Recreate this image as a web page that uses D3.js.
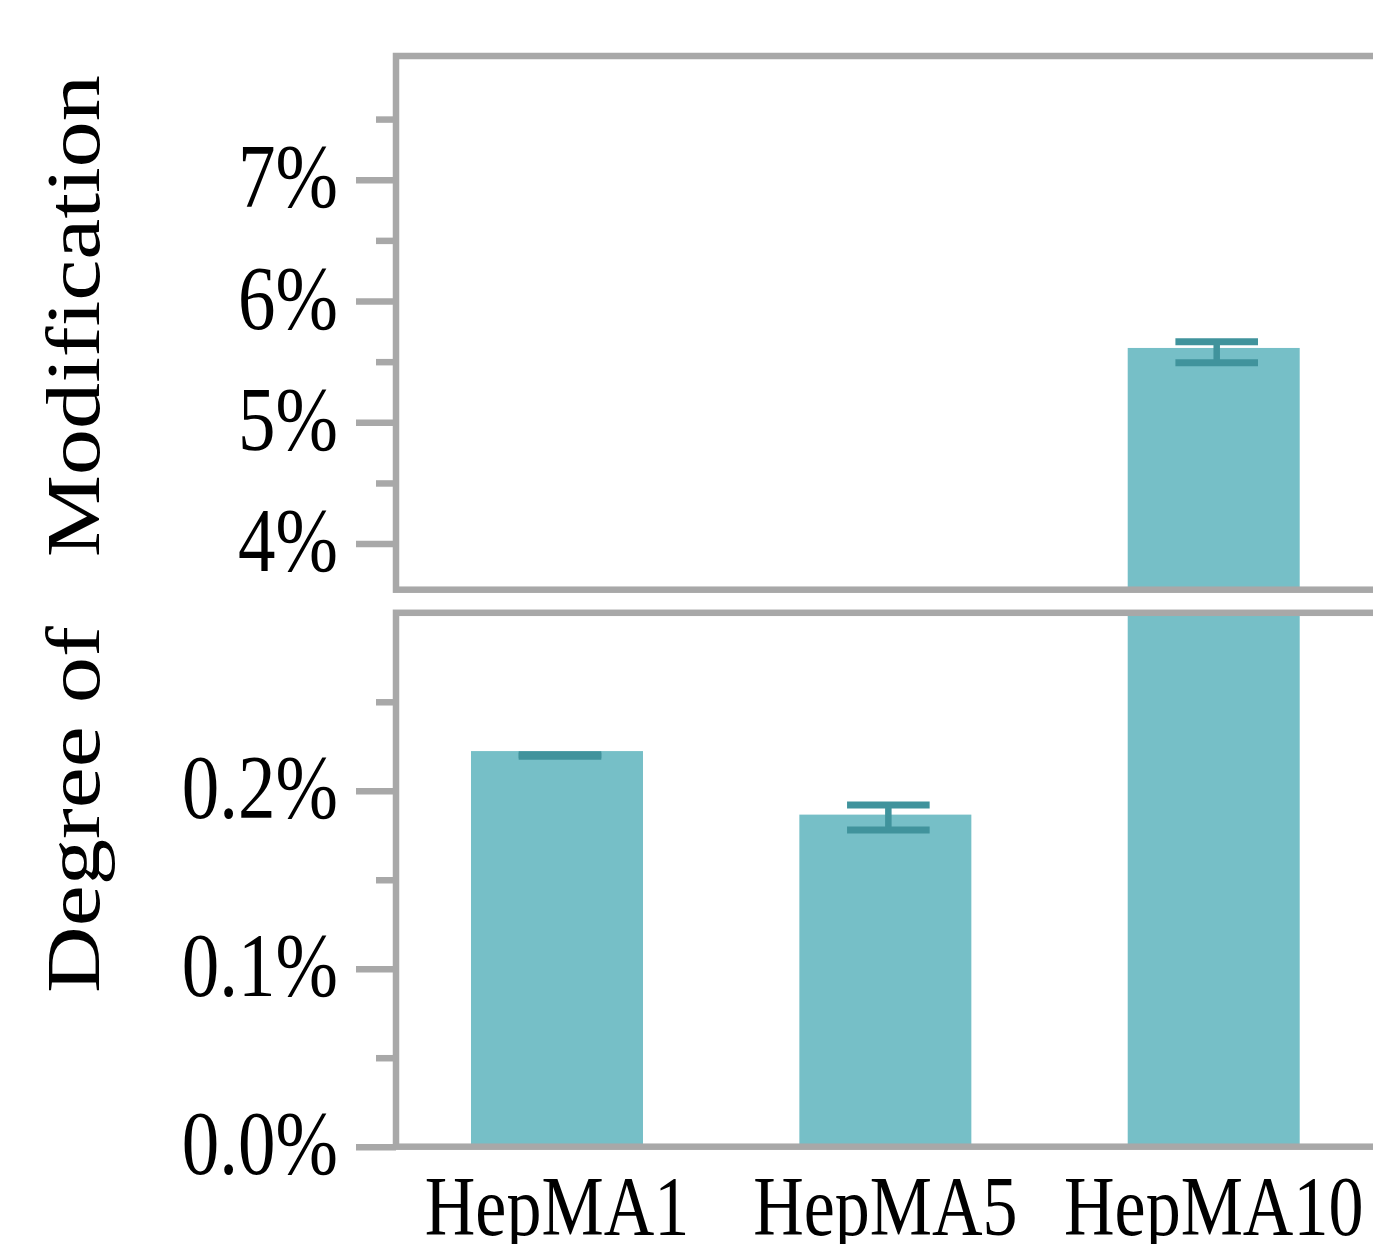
<!DOCTYPE html>
<html>
<head>
<meta charset="utf-8">
<script src="https://cdn.jsdelivr.net/npm/d3@7/dist/d3.min.js"></script>
<style>
  html, body { margin: 0; padding: 0; background: #fff; }
  svg { display: block; }
  text { font-family: "Liberation Serif", "Times New Roman", Times, serif; fill: #000; }
</style>
</head>
<body>
<svg id="chart" width="1373" height="1244"></svg>
<script>
// ---- data ----
const categories = ["HepMA1", "HepMA5", "HepMA10"];
const values     = [0.2223, 0.1866, 5.613];   // % modification
const errLow     = [0.2194, 0.1780, 5.491];
const errHigh    = [0.2202, 0.1920, 5.664];
const topTicks      = [4, 5, 6, 7];
const topMinorTicks = [4.5, 5.5, 6.5, 7.5];
const botTicks      = [0.0, 0.1, 0.2];
const botMinorTicks = [0.05, 0.15, 0.25];
const yLabelParts = ["Degree of", "Modification"];

// ---- layout / style ----
const W = 1373, H = 1244;
const axisColor = "#a8a8a8";
const barColor = "#76bfc7";
const errColor = "#40939c";
const sw = 6.5;
const stretch = 1.2;   // vertical text stretch seen in reference
const left = 396, right = 1380;
const topPanel = { y0: 56, y1: 589.7 };
const botPanel = { y0: 612.8, y1: 1146.7 };

const svg = d3.select("#chart");

const x = d3.scaleBand().domain(categories).range([left, 1374.7])
  .paddingInner(0.4762).paddingOuter(0.2284);

const yTop = d3.scaleLinear().domain([3.62, 8.02]).range([topPanel.y1, topPanel.y0]);
const yBot = d3.scaleLinear().domain([0, 0.30]).range([botPanel.y1, botPanel.y0]);

const rows = categories.map((c, i) => ({ c, v: values[i], lo: errLow[i], hi: errHigh[i] }));

const defs = svg.append("defs");
function clip(id, p) {
  defs.append("clipPath").attr("id", id).append("rect")
    .attr("x", left).attr("y", p.y0).attr("width", right - left).attr("height", p.y1 - p.y0);
}
clip("clipTop", topPanel);
clip("clipBot", botPanel);

function drawPanel(y, clipId, panel, ticks, minor, fmt) {
  const g = svg.append("g");
  const pg = g.append("g").attr("clip-path", `url(#${clipId})`);
  pg.selectAll("rect.bar").data(rows).join("rect").attr("class", "bar")
    .attr("x", d => x(d.c)).attr("width", x.bandwidth())
    .attr("y", d => y(d.v)).attr("height", d => Math.max(0, y(y.domain()[0]) - y(d.v) + 10))
    .attr("fill", barColor);

  const [dmin, dmax] = y.domain();
  const eb = pg.selectAll("g.err").data(rows.filter(d => d.hi >= dmin && d.lo <= dmax)).join("g")
    .attr("class", "err")
    .attr("transform", d => `translate(${x(d.c) + x.bandwidth() / 2 + 3},0)`);
  const capW = 41.3;
  eb.append("line").attr("x1", 0).attr("x2", 0)
    .attr("y1", d => y(d.hi)).attr("y2", d => y(d.lo))
    .attr("stroke", errColor).attr("stroke-width", 6.5);
  eb.append("line").attr("x1", -capW).attr("x2", capW)
    .attr("y1", d => y(d.hi)).attr("y2", d => y(d.hi))
    .attr("stroke", errColor).attr("stroke-width", 7);
  eb.append("line").attr("x1", -capW).attr("x2", capW)
    .attr("y1", d => y(d.lo)).attr("y2", d => y(d.lo))
    .attr("stroke", errColor).attr("stroke-width", 7);

  // frame
  g.append("rect").attr("x", left).attr("y", panel.y0)
    .attr("width", right - left).attr("height", panel.y1 - panel.y0)
    .attr("fill", "none").attr("stroke", axisColor).attr("stroke-width", sw);

  // minor ticks
  const minorAxis = g.append("g").attr("transform", `translate(${left},0)`)
    .call(d3.axisLeft(y).tickValues(minor).tickSize(20).tickFormat(""));
  minorAxis.select(".domain").remove();
  minorAxis.selectAll("line").attr("stroke", axisColor).attr("stroke-width", sw);

  // major ticks
  const majorAxis = g.append("g").attr("transform", `translate(${left},0)`)
    .call(d3.axisLeft(y).tickValues(ticks).tickSize(40).tickFormat(fmt));
  majorAxis.select(".domain").remove();
  majorAxis.selectAll("line").attr("stroke", axisColor).attr("stroke-width", sw)
    .attr("x1", sw / 2 - 40 - sw / 2).attr("x2", 0);
  majorAxis.selectAll("text")
    .attr("x", -58).attr("y", 27 / stretch).attr("dy", null)
    .attr("transform", `scale(1,${stretch})`)
    .attr("font-size", 75)
    .style("font-family", '"Liberation Serif", "Times New Roman", Times, serif')
    .attr("fill", "#000").attr("text-anchor", "end");
}

drawPanel(yTop, "clipTop", topPanel, topTicks, topMinorTicks, d => d + "%");
drawPanel(yBot, "clipBot", botPanel, botTicks, botMinorTicks, d => d3.format(".1f")(d) + "%");

// x labels
svg.append("g").selectAll("text").data(categories).join("text")
  .attr("transform", d => `translate(${x(d) + x.bandwidth() / 2},1235) scale(1,${stretch})`)
  .attr("text-anchor", "middle").attr("font-size", 70).text(d => d);

// y label (two parts around the axis break)
svg.append("text")
  .attr("transform", `translate(99,993) scale(1,${stretch}) rotate(-90)`)
  .attr("text-anchor", "start").attr("font-size", 77).text(yLabelParts[0]);
svg.append("text")
  .attr("transform", `translate(99,75) scale(1,${stretch}) rotate(-90)`)
  .attr("text-anchor", "end").attr("font-size", 77).text(yLabelParts[1]);
</script>
</body>
</html>
